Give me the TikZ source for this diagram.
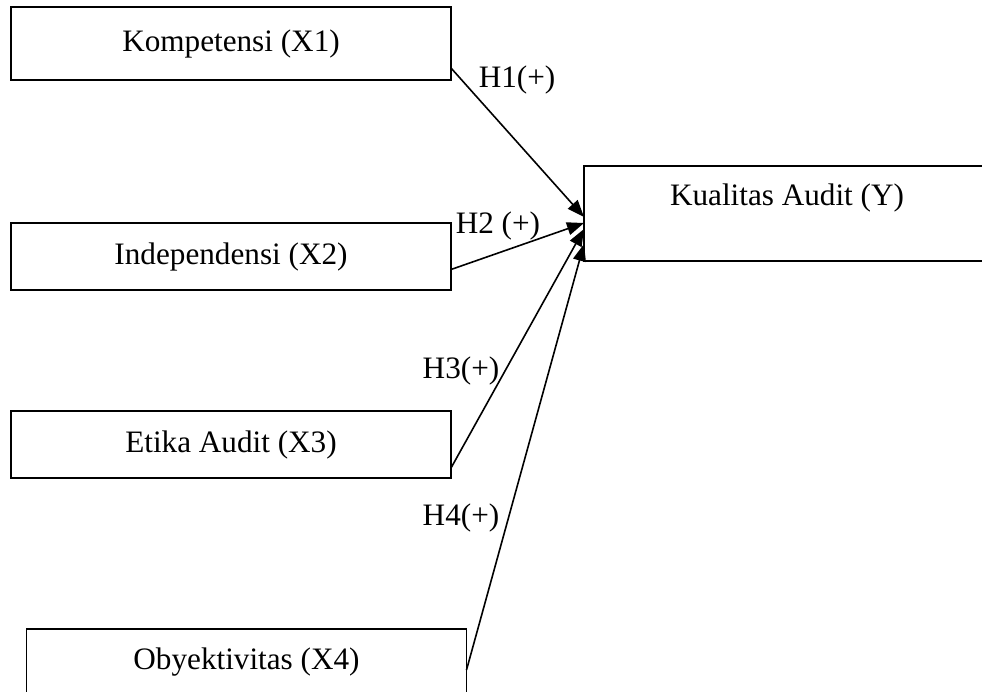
\documentclass[tikz,border=0pt]{standalone}
\usepackage{fontspec}
\setmainfont{Liberation Serif}
\usetikzlibrary{positioning,arrows.meta}

\begin{document}
\begin{tikzpicture}[%
    predictor/.style={%
        draw,
        rectangle,
        inner sep=0pt,
        outer sep=0pt,
        minimum width=220pt,
        minimum height=33.5pt
    },
    outcome/.style={%
        draw,
        rectangle,
        inner sep=0pt,
        outer sep=0pt,
        minimum width=203pt,
        text height=19.5pt,
        text depth=28pt
    },
    hypothesis/.style={%
        inner sep=0pt
    },
    font=\fontsize{15.6}{18}\selectfont,
    line width=0.8pt,
    >={Triangle[length=8.5pt,width=6.5pt]}
]

% Page
\useasboundingbox (0,0) rectangle (491pt,-346pt);

% Independent variables
\node[predictor, minimum height=36.5pt] (kompetensi) at (115.5pt,-21.75pt) {Kompetensi (X1)};
\node[predictor, below=71.5pt of kompetensi] (independensi) {Independensi (X2)};
\node[predictor, below=60.5pt of independensi] (etika) {Etika Audit (X3)};
\node[predictor, minimum height=33pt, below=75.5pt of etika, xshift=7.75pt] (obyektivitas) {Obyektivitas (X4)};

% Dependent variable
\node[outcome, right=66.5pt of independensi, yshift=21.5pt] (kualitas) {Kualitas Audit (Y)};

% Hypotheses
\node[hypothesis, right=13.5pt of kompetensi.south east] (h1) {H1(+)};
\node[hypothesis, right=2pt of independensi.north east, yshift=-1.5pt] (h2) {H2 (+)};
\node[hypothesis, above=12.3pt of etika.north east, xshift=5pt] (h3) {H3(+)};
\node[hypothesis, above=47.8pt of obyektivitas.north east, xshift=-2.75pt] (h4) {H4(+)};

% Arrows
\draw[->] ([yshift=-12.25pt]kompetensi.east) -- ([yshift=-1.75pt]kualitas.west);
\draw[->] ([yshift=-6.5pt]independensi.east) -- ([yshift=-4.75pt]kualitas.west);
\draw[->] ([yshift=-11.75pt]etika.east) -- ([yshift=-7.75pt]kualitas.west);
\draw[->] ([yshift=-4pt]obyektivitas.east) -- ([yshift=-15.25pt]kualitas.west);

\end{tikzpicture}
\end{document}
